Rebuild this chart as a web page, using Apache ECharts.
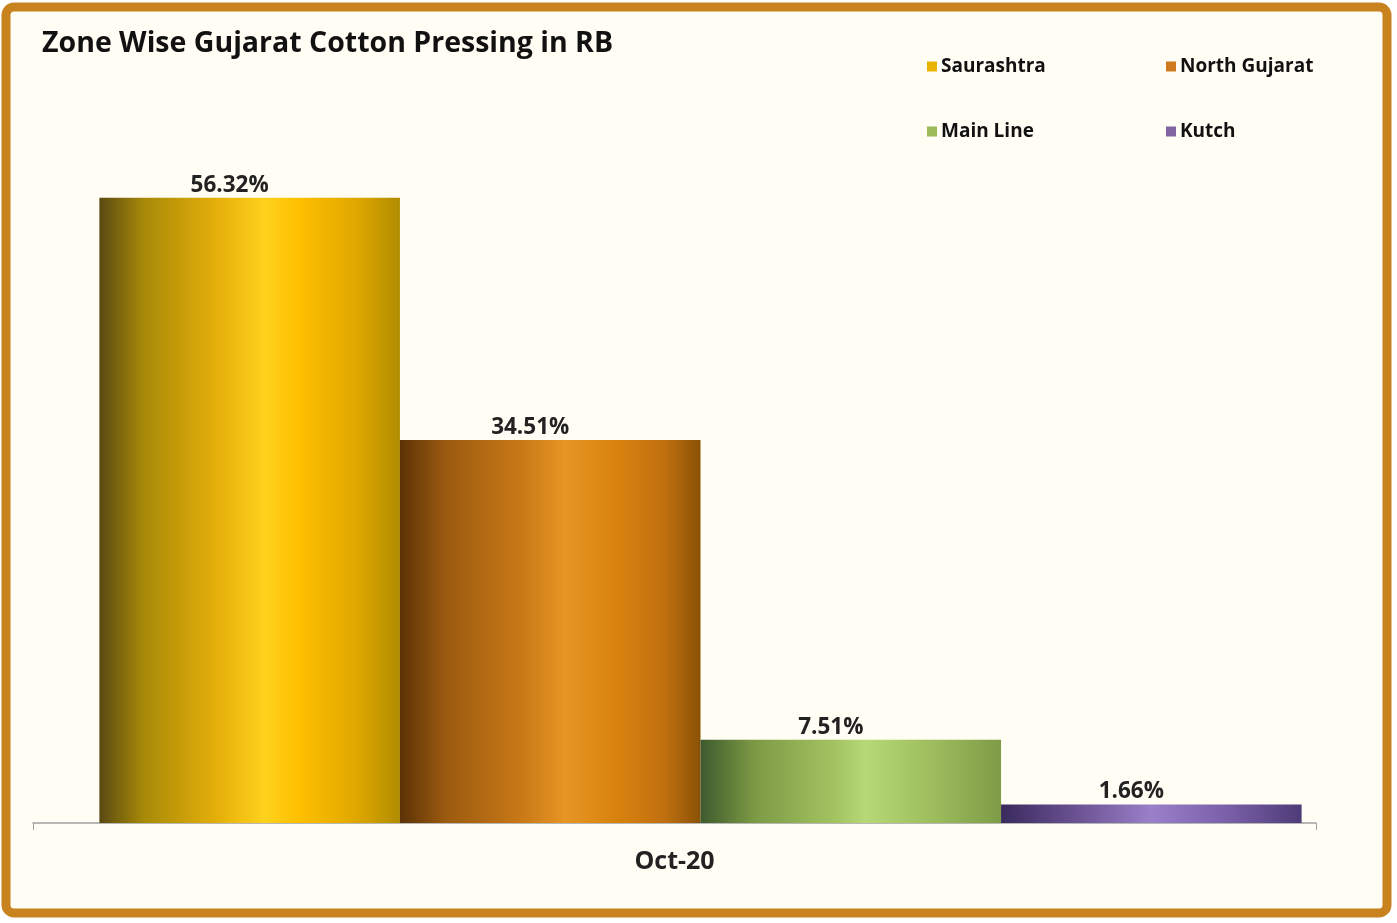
<!DOCTYPE html>
<html><head><meta charset="utf-8">
<script src="https://cdn.jsdelivr.net/npm/echarts@6/dist/echarts.min.js"></script>
<style>html,body{margin:0;padding:0;background:#fff;}#c{width:1397px;height:923px;}</style>
</head><body><div id="c"></div>
<script>
const categories = ['Oct-20'];
const seriesNames = ['Saurashtra', 'North Gujarat', 'Main Line', 'Kutch'];
const saurashtra = [56.32];
const northGujarat = [34.51];
const mainLine = [7.51];
const kutch = [1.66];
const values = [saurashtra, northGujarat, mainLine, kutch];
const legendColors = ['#E8B400', '#D07A1E', '#9BBB59', '#8064A2'];
const gradStops = [
  [['#5A4A12',0],['#A88A08',0.15],['#E6B10A',0.4],['#FFD21E',0.55],['#FFC000',0.66],['#E0A800',0.85],['#B08C00',1]],
  [['#5C3206',0],['#9A5A10',0.15],['#C87816',0.4],['#E69624',0.55],['#D8820E',0.72],['#C07010',0.88],['#8A5206',1]],
  [['#3E5A2E',0],['#7C9A44',0.18],['#A4C462',0.45],['#B6D876',0.55],['#A0C060',0.75],['#7E9C46',1]],
  [['#3A2A5E',0],['#6A5292',0.25],['#9A80C8',0.5],['#7A60A8',0.75],['#4E3C78',1]]
];
function grad(stops){
  return new echarts.graphic.LinearGradient(0,0,1,0, stops.map(s=>({offset:s[1],color:s[0]})));
}
const chart = echarts.init(document.getElementById('c'));
const FONT = 'Open Sans';
const legendPos = [[922,52],[1161,52],[922,117],[1161,117]];
chart.setOption({
  backgroundColor: '#FFFFFF',
  graphic: [{
    type:'rect', z:-10, silent:true,
    shape:{x:6, y:7, width:1381, height:906, r:8},
    style:{fill:'#FFFDF4', stroke:'#C8821E', lineWidth:9}
  }],
  title: {
    text: 'Zone Wise Gujarat Cotton Pressing in RB',
    left: 37, top: 24,
    textStyle: {fontFamily: FONT, fontSize: 28.5, fontWeight: 'bold', color: '#111'}
  },
  legend: seriesNames.map((n,i)=>({
    data:[{name:n, itemStyle:{color:legendColors[i]}}],
    left: legendPos[i][0], top: legendPos[i][1],
    icon:'rect', itemWidth:10, itemHeight:10, itemGap:5,
    textStyle:{fontFamily:FONT, fontSize:19, fontWeight:'bold', color:'#111', padding:[0,0,0,-1]},
    selectedMode:false
  })),
  grid: [
    {left:33, right:81, top:157, bottom:100},
    {left:61, right:57, top:157, bottom:100}
  ],
  xAxis: [
    {type:'category', gridIndex:0, data:categories,
     axisLine:{show:true, lineStyle:{color:'#A0A0A0', width:1.5}},
     axisTick:{show:true, length:7, lineStyle:{color:'#A0A0A0'}},
     axisLabel:{fontFamily:FONT, fontSize:25, fontWeight:'bold', color:'#222', margin:26}},
    {type:'category', gridIndex:1, data:categories, show:false}
  ],
  yAxis: [
    {type:'value', gridIndex:0, min:0, max:60, show:false, splitLine:{show:false}},
    {type:'value', gridIndex:1, min:0, max:60, show:false, splitLine:{show:false}}
  ],
  series: seriesNames.map((n,i)=>({
    name:n, type:'bar', xAxisIndex:1, yAxisIndex:1,
    data: values[i],
    barGap:'0%', barCategoryGap:'6%',
    itemStyle:{color:grad(gradStops[i])},
    label:{show:true, position:'top', distance:1, offset:[-20,0], formatter:p=>p.value.toFixed(2)+'%',
      fontFamily:FONT, fontSize:22.5, fontWeight:'bold', color:'#222'}
  })),
  animation:false
});
</script></body></html>
